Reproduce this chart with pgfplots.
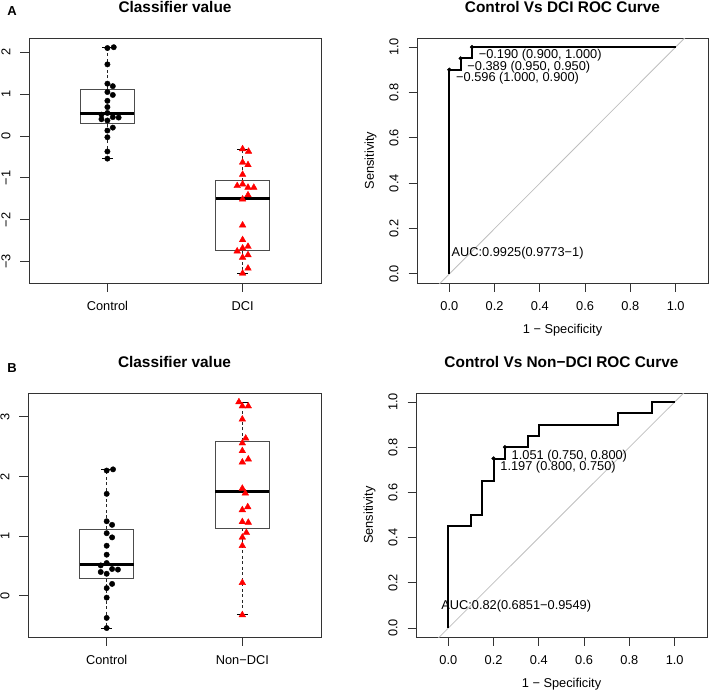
\documentclass[border=0pt]{standalone}
\usepackage{fontspec}
\setmainfont{Liberation Sans}
\usepackage{pgfplots}
\pgfplotsset{compat=1.18}

\definecolor{framegray}{gray}{0.2}
\definecolor{boxgray}{gray}{0.3}
\definecolor{diaggray}{gray}{0.75}
\definecolor{rred}{RGB}{255,0,0}

\pgfplotsset{
  rpanel/.style={
    scale only axis, anchor=south west,
    axis line style={framegray, line width=0.9bp},
    tick style={framegray, line width=0.9bp},
    major tick length=8.5bp,
    tick align=outside,
    xtick pos=lower, ytick pos=left,
    xticklabel style={anchor=base},
    yticklabel style={rotate=90, anchor=base},
    xticklabel shift=18.5bp, yticklabel shift=10.2bp,
    title style={at={(axis description cs:0.5,1.08)}, anchor=base,
      font=\fontsize{15.4bp}{18bp}\selectfont\bfseries},
    xlabel style={at={(axis description cs:0.5,-0.205)}, anchor=base},
    ylabel style={at={(axis description cs:-0.148,0.5)}, anchor=base},
  },
  rbox/.style={boxgray, line width=0.9bp},
  rmed/.style={black, line width=2.8bp},
  rwhisk/.style={black!85, line width=0.9bp, dash pattern=on 3bp off 2.5bp},
  rcap/.style={black, line width=0.9bp},
  ctrlpts/.style={only marks, mark=*, mark size=2.7bp, black},
  dcipts/.style={only marks, mark=triangle*, mark size=3.8bp, rred, mark options={fill=rred, draw=rred}},
  rocline/.style={black, line width=2bp},
  rocpts/.style={only marks, mark=*, mark size=1.9bp, black},
}
\tikzset{thr/.style={anchor=base west, inner sep=0pt, xshift=6.6bp, yshift=-11.8bp}}

% control group (same in A and B)
\pgfplotstableread{
x y
1.000 2.10
1.047 2.12
1.000 1.71
1.000 1.25
1.040 1.19
1.000 1.05
1.040 0.98
1.000 0.84
1.000 0.69
1.000 0.55
0.956 0.51
1.040 0.45
1.083 0.44
0.956 0.40
1.000 0.37
1.040 0.20
1.000 0.13
1.000 -0.03
1.000 -0.37
1.000 -0.54
}\control

\pgfplotstableread{
x y
2.000 -0.31
2.044 -0.37
2.000 -0.63
2.040 -0.69
2.000 -0.92
1.960 -1.19
2.000 -1.15
2.040 -1.23
2.083 -1.23
2.000 -1.51
2.040 -1.41
2.000 -2.13
2.000 -2.48
1.960 -2.75
2.000 -2.68
2.040 -2.64
2.000 -2.90
2.040 -2.84
2.040 -3.16
2.000 -3.28
}\dci

\pgfplotstableread{
x y
1.975 3.25
2.000 3.18
2.044 3.18
2.000 2.96
2.025 2.64
2.000 2.56
2.000 2.43
2.044 2.29
2.000 2.24
2.000 1.80
2.022 1.72
2.040 1.49
2.000 1.44
2.000 1.24
2.044 1.23
2.030 1.06
2.000 0.98
2.000 0.84
2.000 0.22
2.000 -0.32
}\nondci

\begin{document}
\begin{tikzpicture}[font=\fontsize{12.8bp}{15bp}\selectfont]
\path[use as bounding box] (0,0) rectangle (709bp,-692bp);

\node[font=\fontsize{13bp}{15bp}\selectfont\bfseries] at (12bp,-11bp) {A};
\node[font=\fontsize{13bp}{15bp}\selectfont\bfseries] at (12bp,-368bp) {B};

% ---- A, left: classifier value
\begin{axis}[rpanel, at={(29bp,-283bp)}, width=292bp, height=245bp,
  xmin=0.42, xmax=2.58, ymin=-3.51, ymax=2.34,
  xtick={1,2}, xticklabels={Control,DCI},
  ytick={-3,-2,-1,0,1,2}, yticklabels={−3,−2,−1,0,1,2},
  title={Classifier value}]
\addplot[rwhisk] coordinates {(1,1.12)(1,2.12)};
\addplot[rwhisk] coordinates {(1,0.29)(1,-0.54)};
\addplot[rcap] coordinates {(0.96,2.12)(1.04,2.12)};
\addplot[rcap] coordinates {(0.96,-0.54)(1.04,-0.54)};
\addplot[rbox] coordinates {(0.8,0.29)(1.2,0.29)(1.2,1.12)(0.8,1.12)(0.8,0.29)};
\addplot[rmed] coordinates {(0.8,0.53)(1.2,0.53)};
\addplot[rwhisk] coordinates {(2,-1.07)(2,-0.31)};
\addplot[rwhisk] coordinates {(2,-2.74)(2,-3.28)};
\addplot[rcap] coordinates {(1.96,-0.31)(2.04,-0.31)};
\addplot[rcap] coordinates {(1.96,-3.28)(2.04,-3.28)};
\addplot[rbox] coordinates {(1.8,-2.74)(2.2,-2.74)(2.2,-1.07)(1.8,-1.07)(1.8,-2.74)};
\addplot[rmed] coordinates {(1.8,-1.49)(2.2,-1.49)};
\addplot[ctrlpts] table[x=x,y=y] {\control};
\addplot[dcipts] table[x=x,y=y] {\dci};
\end{axis}

% ---- A, right: ROC
\begin{axis}[rpanel, at={(417bp,-283bp)}, width=291bp, height=245bp,
  xmin=-0.143, xmax=1.143, ymin=-0.04, ymax=1.04,
  xtick={0,0.2,0.4,0.6,0.8,1}, xticklabels={0.0,0.2,0.4,0.6,0.8,1.0},
  ytick={0,0.2,0.4,0.6,0.8,1}, yticklabels={0.0,0.2,0.4,0.6,0.8,1.0},
  xlabel={1 − Specificity}, ylabel={Sensitivity},
  title={Control Vs DCI ROC Curve}]
\addplot[diaggray, line width=0.8bp] coordinates {(-0.2,-0.2)(1.2,1.2)};
\addplot[rocline] coordinates {(0,0)(0,0.9)(0.05,0.9)(0.05,0.95)(0.1,0.95)(0.1,1)(1,1)};
\addplot[rocpts] coordinates {(0,0.9)(0.05,0.95)(0.1,1)};
\node[thr] at (axis cs:0.1,1) {−0.190 (0.900, 1.000)};
\node[thr] at (axis cs:0.05,0.95) {−0.389 (0.950, 0.950)};
\node[thr] at (axis cs:0,0.9) {−0.596 (1.000, 0.900)};
\node[anchor=base west, inner sep=0pt] at (axis cs:0.009,0.079) {AUC:0.9925(0.9773−1)};
\end{axis}

% ---- B, left: classifier value
\begin{axis}[rpanel, at={(28bp,-637bp)}, width=293bp, height=244bp,
  xmin=0.42, xmax=2.58, ymin=-0.69, ymax=3.40,
  xtick={1,2}, xticklabels={Control,Non−DCI},
  ytick={0,1,2,3}, yticklabels={0,1,2,3},
  title={Classifier value}]
\addplot[rwhisk] coordinates {(1,1.12)(1,2.12)};
\addplot[rwhisk] coordinates {(1,0.29)(1,-0.54)};
\addplot[rcap] coordinates {(0.96,2.12)(1.04,2.12)};
\addplot[rcap] coordinates {(0.96,-0.54)(1.04,-0.54)};
\addplot[rbox] coordinates {(0.8,0.29)(1.2,0.29)(1.2,1.12)(0.8,1.12)(0.8,0.29)};
\addplot[rmed] coordinates {(0.8,0.53)(1.2,0.53)};
\addplot[rwhisk] coordinates {(2,2.59)(2,3.25)};
\addplot[rwhisk] coordinates {(2,1.13)(2,-0.32)};
\addplot[rcap] coordinates {(1.96,3.25)(2.04,3.25)};
\addplot[rcap] coordinates {(1.96,-0.32)(2.04,-0.32)};
\addplot[rbox] coordinates {(1.8,1.13)(2.2,1.13)(2.2,2.59)(1.8,2.59)(1.8,1.13)};
\addplot[rmed] coordinates {(1.8,1.75)(2.2,1.75)};
\addplot[ctrlpts] table[x=x,y=y] {\control};
\addplot[dcipts] table[x=x,y=y] {\nondci};
\end{axis}

% ---- B, right: ROC
\begin{axis}[rpanel, at={(416bp,-637bp)}, width=291bp, height=244bp,
  xmin=-0.143, xmax=1.143, ymin=-0.04, ymax=1.04,
  xtick={0,0.2,0.4,0.6,0.8,1}, xticklabels={0.0,0.2,0.4,0.6,0.8,1.0},
  ytick={0,0.2,0.4,0.6,0.8,1}, yticklabels={0.0,0.2,0.4,0.6,0.8,1.0},
  xlabel={1 − Specificity}, ylabel={Sensitivity},
  title={Control Vs Non−DCI ROC Curve}]
\addplot[diaggray, line width=0.8bp] coordinates {(-0.2,-0.2)(1.2,1.2)};
\addplot[rocline] coordinates {(0,0)(0,0.45)(0.1,0.45)(0.1,0.5)(0.15,0.5)(0.15,0.65)(0.2,0.65)(0.2,0.75)(0.25,0.75)(0.25,0.8)(0.35,0.8)(0.35,0.85)(0.4,0.85)(0.4,0.9)(0.75,0.9)(0.75,0.95)(0.9,0.95)(0.9,1)(1,1)};
\addplot[rocpts] coordinates {(0.2,0.75)(0.25,0.8)};
\node[thr] at (axis cs:0.25,0.8) {1.051 (0.750, 0.800)};
\node[thr] at (axis cs:0.2,0.75) {1.197 (0.800, 0.750)};
\node[anchor=base west, inner sep=0pt] at (axis cs:-0.032,0.082) {AUC:0.82(0.6851−0.9549)};
\end{axis}
\end{tikzpicture}
\end{document}
